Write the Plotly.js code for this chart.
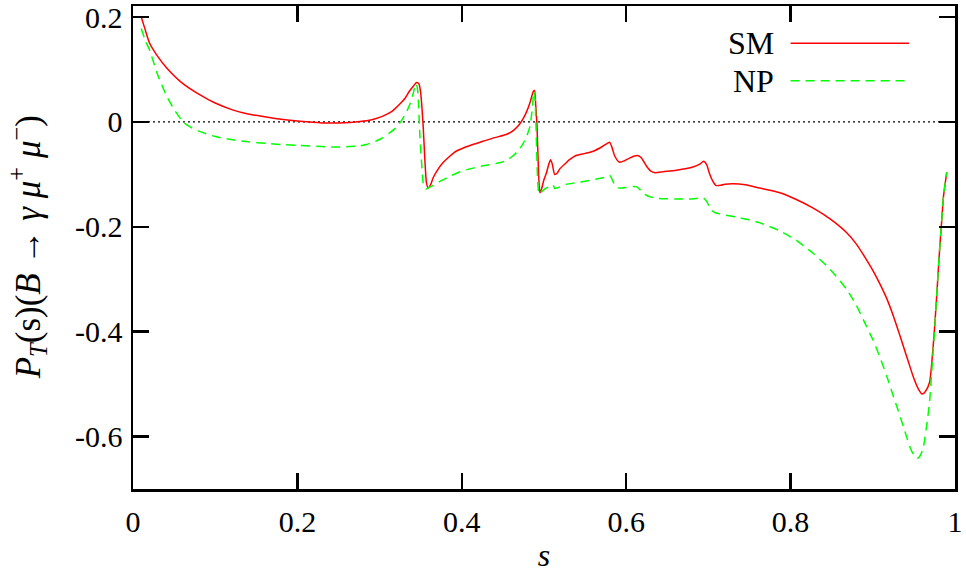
<!DOCTYPE html>
<html>
<head>
<meta charset="utf-8">
<script src="https://cdn.plot.ly/plotly-3.0.1.min.js"></script>
<style>html,body{margin:0;padding:0;background:#fff;}#chart{width:966px;height:573px;}</style>
</head>
<body>
<div id="chart"></div>
<script>
// ---- data ----
const smS = [0.01,0.015,0.02,0.03,0.041,0.06,0.081,0.10,0.121,0.14,0.162,0.18,0.203,0.23,0.25,0.264,0.284,0.295,0.304,0.315,0.324,0.331,0.336,0.341,0.345,0.348,0.350,0.353,0.355,0.357,0.359,0.362,0.365,0.370,0.377,0.385,0.393,0.41,0.426,0.44,0.454,0.463,0.470,0.475,0.479,0.483,0.487,0.4885,0.490,0.4915,0.493,0.495,0.497,0.500,0.503,0.506,0.508,0.510,0.513,0.516,0.519,0.527,0.531,0.539,0.550,0.560,0.572,0.577,0.580,0.583,0.586,0.592,0.598,0.604,0.610,0.614,0.618,0.625,0.630,0.635,0.645,0.661,0.681,0.690,0.694,0.698,0.701,0.705,0.709,0.715,0.720,0.730,0.745,0.762,0.787,0.807,0.827,0.848,0.868,0.880,0.892,0.900,0.908,0.917,0.925,0.931,0.937,0.943,0.949,0.955,0.960,0.964,0.969,0.972,0.975,0.978,0.981,0.984,0.986,0.990];
const smP = [0.200,0.175,0.151,0.125,0.103,0.074,0.052,0.036,0.023,0.015,0.0095,0.005,0.001,-0.002,-0.002,-0.001,0.002,0.006,0.011,0.020,0.033,0.045,0.058,0.068,0.075,0.072,0.055,-0.008,-0.070,-0.116,-0.126,-0.120,-0.107,-0.093,-0.078,-0.066,-0.056,-0.045,-0.037,-0.030,-0.024,-0.016,-0.005,0.007,0.020,0.037,0.058,0.060,0.030,-0.008,-0.080,-0.135,-0.128,-0.110,-0.097,-0.080,-0.072,-0.080,-0.100,-0.098,-0.090,-0.078,-0.072,-0.064,-0.060,-0.056,-0.046,-0.041,-0.039,-0.050,-0.065,-0.077,-0.074,-0.069,-0.065,-0.064,-0.068,-0.085,-0.094,-0.097,-0.095,-0.092,-0.086,-0.080,-0.075,-0.082,-0.097,-0.112,-0.121,-0.121,-0.119,-0.118,-0.120,-0.126,-0.135,-0.148,-0.164,-0.185,-0.211,-0.233,-0.262,-0.283,-0.307,-0.337,-0.370,-0.398,-0.427,-0.456,-0.485,-0.508,-0.519,-0.514,-0.497,-0.455,-0.396,-0.325,-0.250,-0.185,-0.142,-0.096];

const npS = [0.01,0.015,0.02,0.03,0.041,0.05,0.061,0.07,0.081,0.10,0.121,0.14,0.162,0.18,0.203,0.23,0.25,0.264,0.275,0.284,0.295,0.304,0.312,0.320,0.326,0.332,0.337,0.341,0.344,0.346,0.349,0.351,0.353,0.356,0.360,0.365,0.375,0.385,0.395,0.406,0.425,0.446,0.455,0.462,0.468,0.474,0.479,0.483,0.486,0.4875,0.489,0.491,0.492,0.494,0.497,0.503,0.508,0.511,0.513,0.516,0.519,0.527,0.539,0.550,0.564,0.575,0.580,0.583,0.586,0.591,0.600,0.608,0.613,0.618,0.623,0.629,0.640,0.661,0.680,0.694,0.698,0.703,0.708,0.713,0.725,0.738,0.750,0.762,0.787,0.807,0.827,0.848,0.868,0.880,0.892,0.900,0.908,0.917,0.925,0.931,0.937,0.942,0.947,0.951,0.954,0.957,0.961,0.965,0.969,0.972,0.975,0.978,0.981,0.984,0.986,0.990];
const npP = [0.178,0.155,0.138,0.090,0.049,0.024,0.000,-0.010,-0.018,-0.028,-0.034,-0.038,-0.041,-0.043,-0.045,-0.047,-0.048,-0.047,-0.046,-0.043,-0.037,-0.030,-0.021,-0.011,0.001,0.017,0.034,0.055,0.073,0.065,-0.027,-0.075,-0.116,-0.128,-0.125,-0.121,-0.112,-0.104,-0.097,-0.091,-0.084,-0.078,-0.073,-0.065,-0.056,-0.043,-0.027,-0.008,0.030,0.058,0.045,-0.050,-0.100,-0.138,-0.133,-0.126,-0.122,-0.120,-0.127,-0.126,-0.124,-0.119,-0.116,-0.113,-0.109,-0.105,-0.102,-0.110,-0.120,-0.126,-0.125,-0.123,-0.124,-0.131,-0.138,-0.143,-0.146,-0.147,-0.147,-0.145,-0.152,-0.167,-0.173,-0.175,-0.179,-0.183,-0.187,-0.192,-0.208,-0.226,-0.250,-0.281,-0.319,-0.350,-0.389,-0.415,-0.446,-0.485,-0.523,-0.551,-0.580,-0.605,-0.627,-0.637,-0.642,-0.638,-0.624,-0.585,-0.535,-0.470,-0.402,-0.325,-0.250,-0.185,-0.142,-0.096];

const xTickVals = [0,0.2,0.4,0.6,0.8,1];
const xTickText = ['0','0.2','0.4','0.6','0.8','1'];
const yTickVals = [-0.6,-0.4,-0.2,0,0.2];
const yTickText = ['-0.6','-0.4','-0.2','0','0.2'];
const seriesNames = ['SM','NP'];

// ---- chart ----
const FONT = '"Liberation Serif", "Times New Roman", serif';
const traces = [
  {x: smS, y: smP, name: seriesNames[0], type: 'scatter', mode: 'lines',
   line: {color: '#ff0000', width: 1.5, shape: 'spline', smoothing: 0.6}, showlegend: false},
  {x: npS, y: npP, name: seriesNames[1], type: 'scatter', mode: 'lines',
   line: {color: '#00ff00', width: 1.5, dash: '9px,6px', shape: 'spline', smoothing: 0.6}, showlegend: false}
];

function axisCommon() {
  return {
    showgrid: false, zeroline: false, showline: true, linecolor: '#000', linewidth: 2.5,
    mirror: 'ticks', ticks: 'inside', ticklen: 16, tickwidth: 2.5, tickcolor: '#000',
    tickfont: {family: FONT, size: 30, color: '#000'}
  };
}

const layout = {
  width: 966, height: 573,
  font: {family: FONT, size: 30, color: '#000'},
  margin: {l: 133, r: 11, t: 6, b: 84},
  paper_bgcolor: '#fff', plot_bgcolor: '#fff',
  xaxis: Object.assign(axisCommon(), {
    range: [0, 1], tickmode: 'array', tickvals: xTickVals, ticktext: xTickText,
    ticklabelstandoff: 4,
    title: {text: '<i>s</i>', font: {family: FONT, size: 32, color: '#000'}, standoff: 8}
  }),
  yaxis: Object.assign(axisCommon(), {
    range: [-0.7, 0.221], tickmode: 'array', tickvals: yTickVals, ticktext: yTickText,
    ticklabelstandoff: 2
  }),
  shapes: [
    {type: 'line', xref: 'x', yref: 'y', x0: 0, x1: 1, y0: 0, y1: 0,
     line: {color: '#000', width: 1.2, dash: '2px,3px'}, layer: 'below'},
    {type: 'line', xref: 'paper', yref: 'paper', x0: 0.800, x1: 0.944, y0: 0.923, y1: 0.923,
     line: {color: '#ff0000', width: 1.5}},
    {type: 'line', xref: 'paper', yref: 'paper', x0: 0.800, x1: 0.944, y0: 0.845, y1: 0.845,
     line: {color: '#00ff00', width: 1.5, dash: '9px,6px'}}
  ],
  annotations: [
    {text: seriesNames[0], xref: 'paper', yref: 'paper', x: 0.782, y: 0.923,
     xanchor: 'right', yanchor: 'middle', showarrow: false,
     font: {family: FONT, size: 32, color: '#000'}},
    {text: seriesNames[1], xref: 'paper', yref: 'paper', x: 0.782, y: 0.845,
     xanchor: 'right', yanchor: 'middle', showarrow: false,
     font: {family: FONT, size: 32, color: '#000'}},
    {text: '<i>P</i><sub><i>T</i></sub>(s)(<i>B</i> \u2192 <i>\u03b3</i> <i>\u03bc</i><sup>+</sup> <i>\u03bc</i><sup>\u2212</sup>)',
     xref: 'paper', yref: 'paper', x: -0.128, y: 0.5, xanchor: 'center', yanchor: 'middle',
     textangle: -90, showarrow: false, font: {family: FONT, size: 35, color: '#000'}}
  ]
};

Plotly.newPlot('chart', traces, layout, {staticPlot: true, displayModeBar: false});
</script>
</body>
</html>
